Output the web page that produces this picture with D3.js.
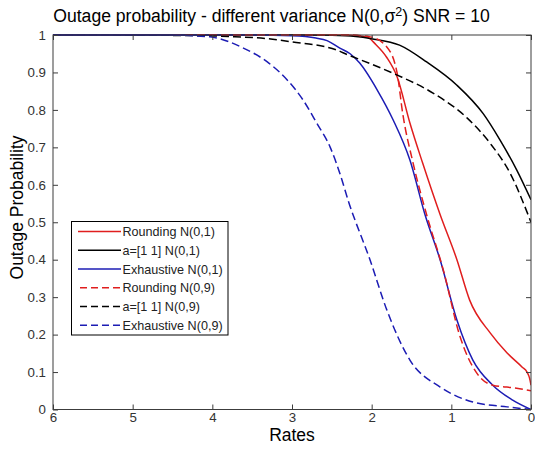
<!DOCTYPE html>
<html><head><meta charset="utf-8">
<script src="https://cdn.jsdelivr.net/npm/d3@7"></script>
<style>body{margin:0;background:#fff}svg{display:block}text{font-family:"Liberation Sans",Arial,sans-serif}</style>
</head><body>
<svg id="c" width="535" height="449"></svg>
<script>
// ---- data ----
const seriesNames = ["Rounding N(0,1)","a=[1 1] N(0,1)","Exhaustive N(0,1)","Rounding N(0,9)","a=[1 1] N(0,9)","Exhaustive N(0,9)"];
const xTicks = [6,5,4,3,2,1,0];
const yTicks = [0,0.1,0.2,0.3,0.4,0.5,0.6,0.7,0.8,0.9,1];

const roundingN01_r = [6,2.3,2.06,1.95,1.81,1.68,1.52,1.36,1.14,0.93,0.77,0.51,0.30,0.11,0.05,0.02,0];
const roundingN01_p = [1,1,0.995,0.975,0.94,0.888,0.765,0.658,0.52,0.40,0.292,0.204,0.151,0.113,0.1,0.085,0.065];

const a11N01_r = [6,3,2.5,2.2,2.0,1.65,1.31,0.93,0.6,0.39,0.18,0];
const a11N01_p = [1,1,0.999,0.996,0.99,0.973,0.928,0.866,0.79,0.72,0.64,0.56];

const exhN01_r = [6,3.5,3.0,2.7,2.56,2.4,2.27,2.15,1.93,1.73,1.52,1.33,1.14,0.93,0.73,0.48,0.23,0];
const exhN01_p = [1,1,0.998,0.992,0.985,0.965,0.95,0.925,0.853,0.773,0.666,0.52,0.399,0.239,0.132,0.065,0.025,0];

const roundingN09_r = [6,2.3,2.02,1.81,1.68,1.61,1.48,1.31,1.10,0.89,0.68,0.48,0.18,0];
const roundingN09_p = [1,1,0.995,0.968,0.898,0.79,0.658,0.52,0.372,0.194,0.097,0.065,0.057,0.05];

const a11N09_r = [6,4.5,3.8,3.3,3.02,2.44,2.31,2.0,1.68,1.23,0.8,0.51,0.26,0];
const a11N09_p = [1,0.999,0.996,0.99,0.982,0.96,0.948,0.922,0.893,0.845,0.778,0.71,0.63,0.50];

const exhN09_r = [6,4.57,4.03,3.61,3.31,3.06,2.86,2.69,2.52,2.40,2.29,2.02,1.81,1.52,1.14,0.73,0.30,0];
const exhN09_p = [1,1,0.995,0.965,0.928,0.88,0.826,0.765,0.70,0.631,0.555,0.399,0.266,0.132,0.06,0.02,0.007,0];

const seriesR = [roundingN01_r,a11N01_r,exhN01_r,roundingN09_r,a11N09_r,exhN09_r];
const seriesP = [roundingN01_p,a11N01_p,exhN01_p,roundingN09_p,a11N09_p,exhN09_p];
const seriesColor = ["#e01e1e","#000000","#1c1cb4","#e01e1e","#000000","#1c1cb4"];
const seriesDash = [null,null,null,"8,4","8,4","8,4"];

// ---- layout ----
const L=53, R=531, T=35, B=409.5;
const svg = d3.select("#c");
const x = d3.scaleLinear().domain([6,0]).range([L,R]);
const y = d3.scaleLinear().domain([0,1]).range([B,T]);

svg.append("rect").attr("x",L).attr("y",T).attr("width",R-L).attr("height",B-T).attr("fill","#fff");

const line = d3.line().x(d=>x(d[0])).y(d=>y(d[1])).curve(d3.curveMonotoneX);
svg.append("defs").append("clipPath").attr("id","pc").append("rect")
  .attr("x",L).attr("y",T-2).attr("width",R-L).attr("height",B-T+4);
const g = svg.append("g").attr("clip-path","url(#pc)");
seriesR.forEach((rs,i)=>{
  const pts = rs.map((r,k)=>[r,seriesP[i][k]]);
  g.append("path").attr("d",line(pts)).attr("fill","none")
    .attr("stroke",seriesColor[i]).attr("stroke-width",1.5)
    .attr("stroke-dasharray",seriesDash[i]);
});

// ---- axes ----
const axCol="#3c3c3c";
function styleAxis(sel, labels){
  sel.select(".domain").remove();
  sel.selectAll(".tick line").attr("stroke",axCol);
  sel.selectAll(".tick text").attr("fill","#333").style("font-size","13.3px").style("font-family","'Liberation Sans',Arial,sans-serif");
  if(!labels) sel.selectAll(".tick text").remove();
}
styleAxis(svg.append("g").attr("transform",`translate(0,${B})`).call(d3.axisBottom(x).tickValues(xTicks).tickFormat(d3.format("d")).tickSize(-5).tickPadding(3)),true);
styleAxis(svg.append("g").attr("transform",`translate(0,${T})`).call(d3.axisTop(x).tickValues(xTicks).tickSize(-5)),false);
styleAxis(svg.append("g").attr("transform",`translate(${L},0)`).call(d3.axisLeft(y).tickValues(yTicks).tickFormat(d=>d===0?"0":d===1?"1":d3.format(".1f")(d)).tickSize(-5).tickPadding(7)),true);
styleAxis(svg.append("g").attr("transform",`translate(${R},0)`).call(d3.axisRight(y).tickValues(yTicks).tickSize(-5)),false);
svg.append("rect").attr("x",L).attr("y",T).attr("width",R-L).attr("height",B-T)
  .attr("fill","none").attr("stroke",axCol).attr("stroke-width",1);

// ---- titles ----
const title = svg.append("text").attr("x",271.5).attr("y",22).attr("text-anchor","middle")
  .style("font-size","17.6px").attr("fill","#000");
title.append("tspan").text("Outage probability - different variance N(0,");
title.append("tspan").text("σ");
title.append("tspan").attr("dy",-6).style("font-size","12.5px").text("2");
title.append("tspan").attr("dy",6).text(") SNR = 10");

svg.append("text").attr("x",292).attr("y",441).attr("text-anchor","middle")
  .style("font-size","17.5px").text("Rates");
svg.append("text").attr("transform","translate(23,207.5) rotate(-90)").attr("text-anchor","middle")
  .style("font-size","17.5px").text("Outage Probability");

// ---- legend ----
const lg = svg.append("g");
lg.append("rect").attr("x",71.5).attr("y",221.5).attr("width",156.5).attr("height",113.5)
  .attr("fill","#fff").attr("stroke","#000").attr("stroke-width",1);
seriesNames.forEach((nm,i)=>{
  const yy = 231.5 + i*18.75;
  lg.append("line").attr("x1",78).attr("x2",121).attr("y1",yy).attr("y2",yy)
    .attr("stroke",seriesColor[i]).attr("stroke-width",1.5).attr("stroke-dasharray",seriesDash[i]?"7,4":null)
    .attr("stroke-dashoffset",seriesDash[i]?-2:0);
  lg.append("text").attr("x",122.5).attr("y",yy+4.5).style("font-size","12.6px").attr("fill","#222").text(nm);
});
</script>
</body></html>
